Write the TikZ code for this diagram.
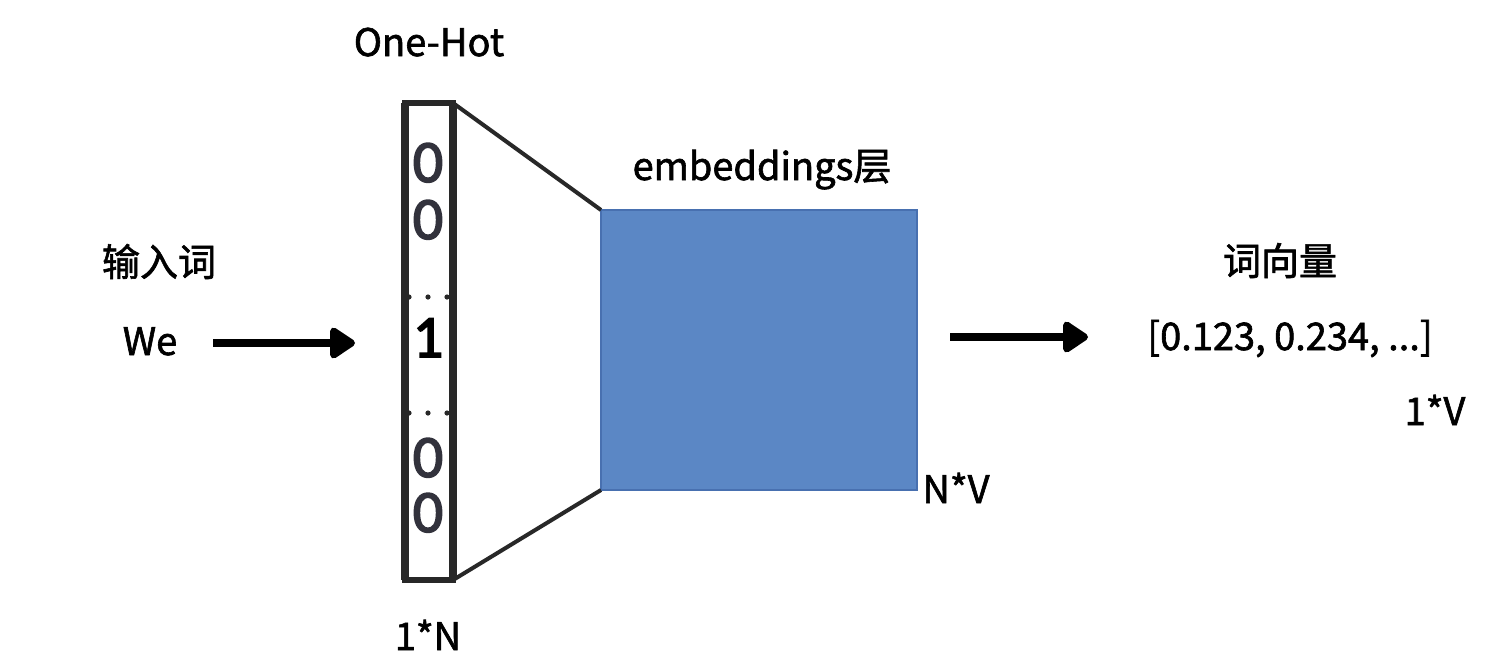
\documentclass[tikz,border=0pt]{standalone}
\usepackage{fontspec}
\setmainfont{Noto Sans CJK SC}
\newfontfamily\lblfont{Noto Sans CJK SC}[FakeBold=1.6]
\newfontfamily\digitfont{Carlito}[FakeBold=2.6]
\usetikzlibrary{arrows.meta}
\definecolor{embblue}{RGB}{91,135,197}
\definecolor{embedge}{RGB}{72,112,176}
\definecolor{linegray}{RGB}{40,40,40}
\definecolor{digitgray}{RGB}{50,50,60}
\begin{document}
\begin{tikzpicture}[x=0.5pt,y=-0.5pt,
  lbl/.style={font=\lblfont\fontsize{19}{22}\selectfont, anchor=base, inner sep=0pt},
  dig/.style={font=\digitfont\fontsize{30}{31}\selectfont, text=digitgray, anchor=base, inner sep=0pt},
  bigarrow/.style={line width=3.6pt, -{Triangle[length=14pt,width=17.5pt,round]}, draw=black},
  dotmark/.style={fill=linegray, draw=none},
  barline/.style={line width=3.8pt, linegray},
]
\useasboundingbox (0,0) rectangle (1508,670);
\fill[white] (0,0) rectangle (1508,670);

% one-hot strip
\node (strip) [draw=linegray, line width=2.8pt, minimum width=24pt, minimum height=238.5pt,
  inner sep=0pt, outer sep=0pt] at (429,341.5) {};
\draw[barline] (strip.north west) -- (strip.south west);
\draw[barline] (strip.north east) -- (strip.south east);
% embeddings matrix
\node (emb) [fill=embblue, draw=embedge, line width=0.8pt, minimum width=158pt, minimum height=140pt,
  inner sep=0pt, outer sep=0pt] at (759,350) {};
% trapezoid sides
\draw[line width=2pt, linegray] (strip.north east) -- (emb.north west);
\draw[line width=2pt, linegray] (strip.south east) -- (emb.south west);

% digits
\node[dig] (d1) at (428,182) {0};
\node[dig] (d2) at (428,239) {0};
\node[dig, text=black] (d3) at (428,357) {1};
\node[dig] (d4) at (428,477) {0};
\node[dig] (d5) at (428,532) {0};
\foreach \yy in {297,413}{
  \foreach \xx in {409,428,447}{
    \fill[dotmark] (\xx,\yy) circle (1.3pt);
  }
}

% labels
\node[lbl] (onehot) at (429,56) {One-Hot};
\node[lbl] (embl) at (762,180) {embeddings层};
\node[lbl] (inw) at (159,276) {输入词};
\node[lbl] (we) at (150,355) {We};
\node[lbl] (vecl) at (1280,275) {词向量};
\node[lbl] (vec) at (1290,350) {[0.123, 0.234, ...]};
\node[lbl] (onev) at (1435,425) {1*V};
\node[lbl] (nv) at (956,503) {N*V};
\node[lbl] (onen) at (428,650) {1*N};

% arrows
\coordinate (a1s) at (213,343);
\coordinate (a1e) at (355,343);
\draw[bigarrow] (a1s) -- (a1e);
\coordinate (a2s) at (950,337);
\coordinate (a2e) at (1088,337);
\draw[bigarrow] (a2s) -- (a2e);
\end{tikzpicture}
\end{document}
